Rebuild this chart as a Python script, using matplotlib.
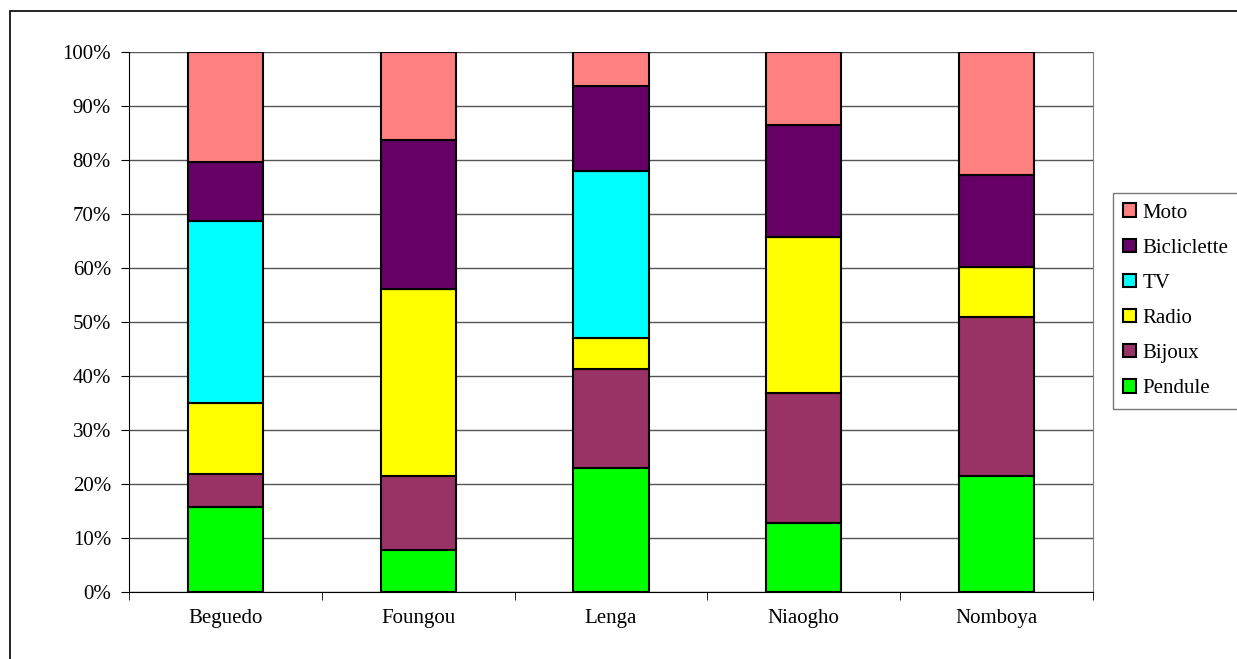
import numpy as np
import matplotlib.pyplot as plt
from matplotlib.patches import Patch, Rectangle
from matplotlib.ticker import FixedLocator

plt.rcParams.update({
    'font.family': 'serif',
    'font.serif': ['Liberation Serif', 'DejaVu Serif'],
    'font.size': 15,
})

villages = ['Beguedo', 'Foungou', 'Lenga', 'Niaogho', 'Nomboya']

# shares in % (bottom to top)
pendule = [15.8, 7.7, 23.0, 12.8, 21.5]
bijoux = [6.0, 13.7, 18.3, 24.0, 29.4]
radio = [13.2, 34.7, 5.8, 29.0, 9.3]
tv = [33.7, 0.0, 30.9, 0.0, 0.0]
bicyclette = [10.9, 27.6, 15.7, 20.6, 17.1]
moto = [20.4, 16.3, 6.3, 13.6, 22.7]

series = [('Pendule', pendule, '#00ff00'),
          ('Bijoux', bijoux, '#993366'),
          ('Radio', radio, '#ffff00'),
          ('TV', tv, '#00ffff'),
          ('Bicliclette', bicyclette, '#660066'),
          ('Moto', moto, '#ff8080')]

fig = plt.figure(figsize=(12.37, 6.59), dpi=100)
ax = fig.add_axes([129/1237, 1-592/659, (1093-129)/1237, (592-52)/659])

x = np.arange(len(villages))
bottom = np.zeros(len(villages))
for name, vals, col in series:
    vals = np.array(vals)
    ax.bar(x, vals, 0.39, bottom=bottom, color=col, edgecolor='black', linewidth=1.5, zorder=3)
    bottom += vals

ax.set_xlim(-0.5, 4.5)
ax.set_ylim(0, 100)
ax.set_yticks(np.arange(0, 101, 10))
ax.set_yticklabels(['%d%%' % v for v in range(0, 101, 10)])
ax.yaxis.grid(True, color='#555555', linewidth=1, zorder=0)
ax.set_xticks(x)
ax.set_xticklabels(villages)
ax.tick_params(axis='x', length=0, pad=12)
ax.xaxis.set_minor_locator(FixedLocator(np.arange(-0.5, 5, 1)))
ax.tick_params(axis='x', which='minor', length=6, direction='out', color='black')
ax.tick_params(axis='y', length=6, direction='out', pad=7)
ax.spines['top'].set_visible(False)
ax.spines['right'].set_color('#808080')
ax.spines['left'].set_color('black')
ax.spines['bottom'].set_color('black')

handles = [Patch(facecolor=c, edgecolor='black', linewidth=1.5, label=n) for n, v, c in series[::-1]]
leg = fig.legend(handles=handles, loc='upper left', bbox_to_anchor=(1113/1237, 1-193/659),
                 frameon=True, fancybox=False, edgecolor='#555555', handlelength=0.62,
                 handleheight=0.62, handletextpad=0.3, labelspacing=0.77, borderpad=0.5,
                 borderaxespad=0, fontsize=15)
leg.get_frame().set_linewidth(1)

fig.patches.append(Rectangle((10/1237, -0.1), 1.2, 1-11/659+0.1, transform=fig.transFigure,
                             fill=False, edgecolor='black', linewidth=1.2))

fig.savefig('out.png', dpi=100)
